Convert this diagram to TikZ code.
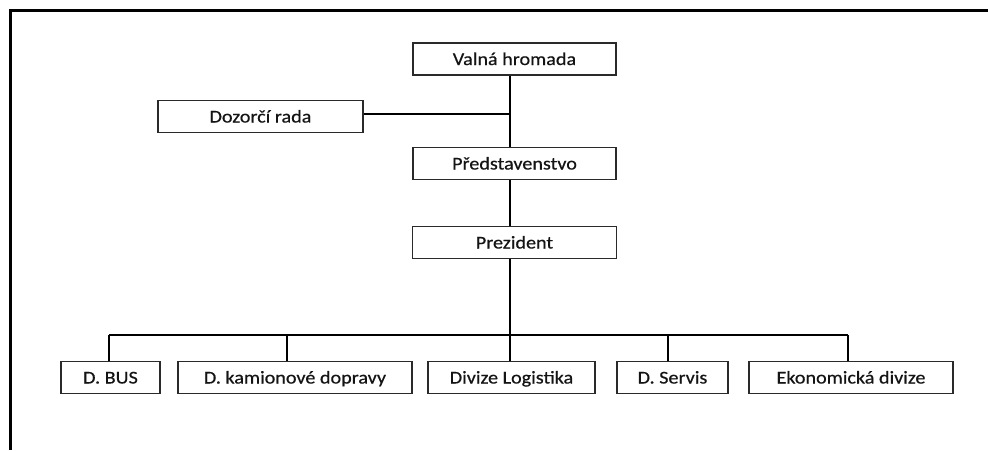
\documentclass[tikz,border=0pt]{standalone}
\usepackage{fontspec}
\setmainfont{Carlito}[FakeStretch=1.12, FakeBold=0.5]
\usepackage{xcolor}
\usetikzlibrary{calc}
\definecolor{boxline}{HTML}{2A2A2A}
\definecolor{boxtext}{HTML}{141414}

\begin{document}
\begin{tikzpicture}[
  x=1pt, y=-1pt,
  orgbox/.style={draw=boxline, line width=1.9pt, rectangle, minimum height=32pt,
    inner sep=0pt, text height=12pt, text depth=0pt, text=boxtext,
    font=\fontsize{18}{22}\selectfont},
  link/.style={draw=black, line width=1.6pt}
]
\useasboundingbox (0,0) rectangle (988,450);
% frame
\draw[line width=3pt] (10,450) -- (10,10) -- (988,10);

% top levels
\node[orgbox, minimum width=203pt] (valna) at (514.5,59) {Valná hromada};
\node[orgbox, minimum width=205pt] (dozorci) at (260.5,116.5) {Dozorčí rada};
\node[orgbox, minimum width=203pt] (pred) at (514.5,163.5) {Představenstvo};
\node[orgbox, minimum width=204pt] (prez) at (514.5,242.5) {Prezident};

% divisions
\node[orgbox, minimum width=99pt] (bus) at (110.5,377.5) {D. BUS};
\node[orgbox, minimum width=234pt] (kamion) at (295,377.5) {D. kamionové dopravy};
\node[orgbox, minimum width=167pt] (logist) at (511.5,377.5) {Divize Logistika};
\node[orgbox, minimum width=111pt] (servis) at (672.5,377.5) {D. Servis};
\node[orgbox, minimum width=204pt] (ekon) at (851,377.5) {Ekonomická divize};

\coordinate (spine) at (510,114);
\coordinate (bar) at (510,335);

% links
\draw[link] (valna.south -| spine) -- (pred.north -| spine);
\draw[link] (dozorci.east |- spine) -- (spine);
\draw[link] (pred.south -| spine) -- (prez.north -| spine);
\draw[link] (prez.south -| bar) -- (bar);
\draw[link] ($(bus.north |- bar)+(-1.5,0)$) -- ($(ekon.north |- bar)+(-3,0)$);
\foreach \n/\dx in {bus/-1.5, kamion/-8, logist/-1.5, servis/-4.5, ekon/-3}
  \draw[link] ($(\n.north)+(\dx,0)$) -- ($(\n.north |- bar)+(\dx,0)$);
\end{tikzpicture}
\end{document}
